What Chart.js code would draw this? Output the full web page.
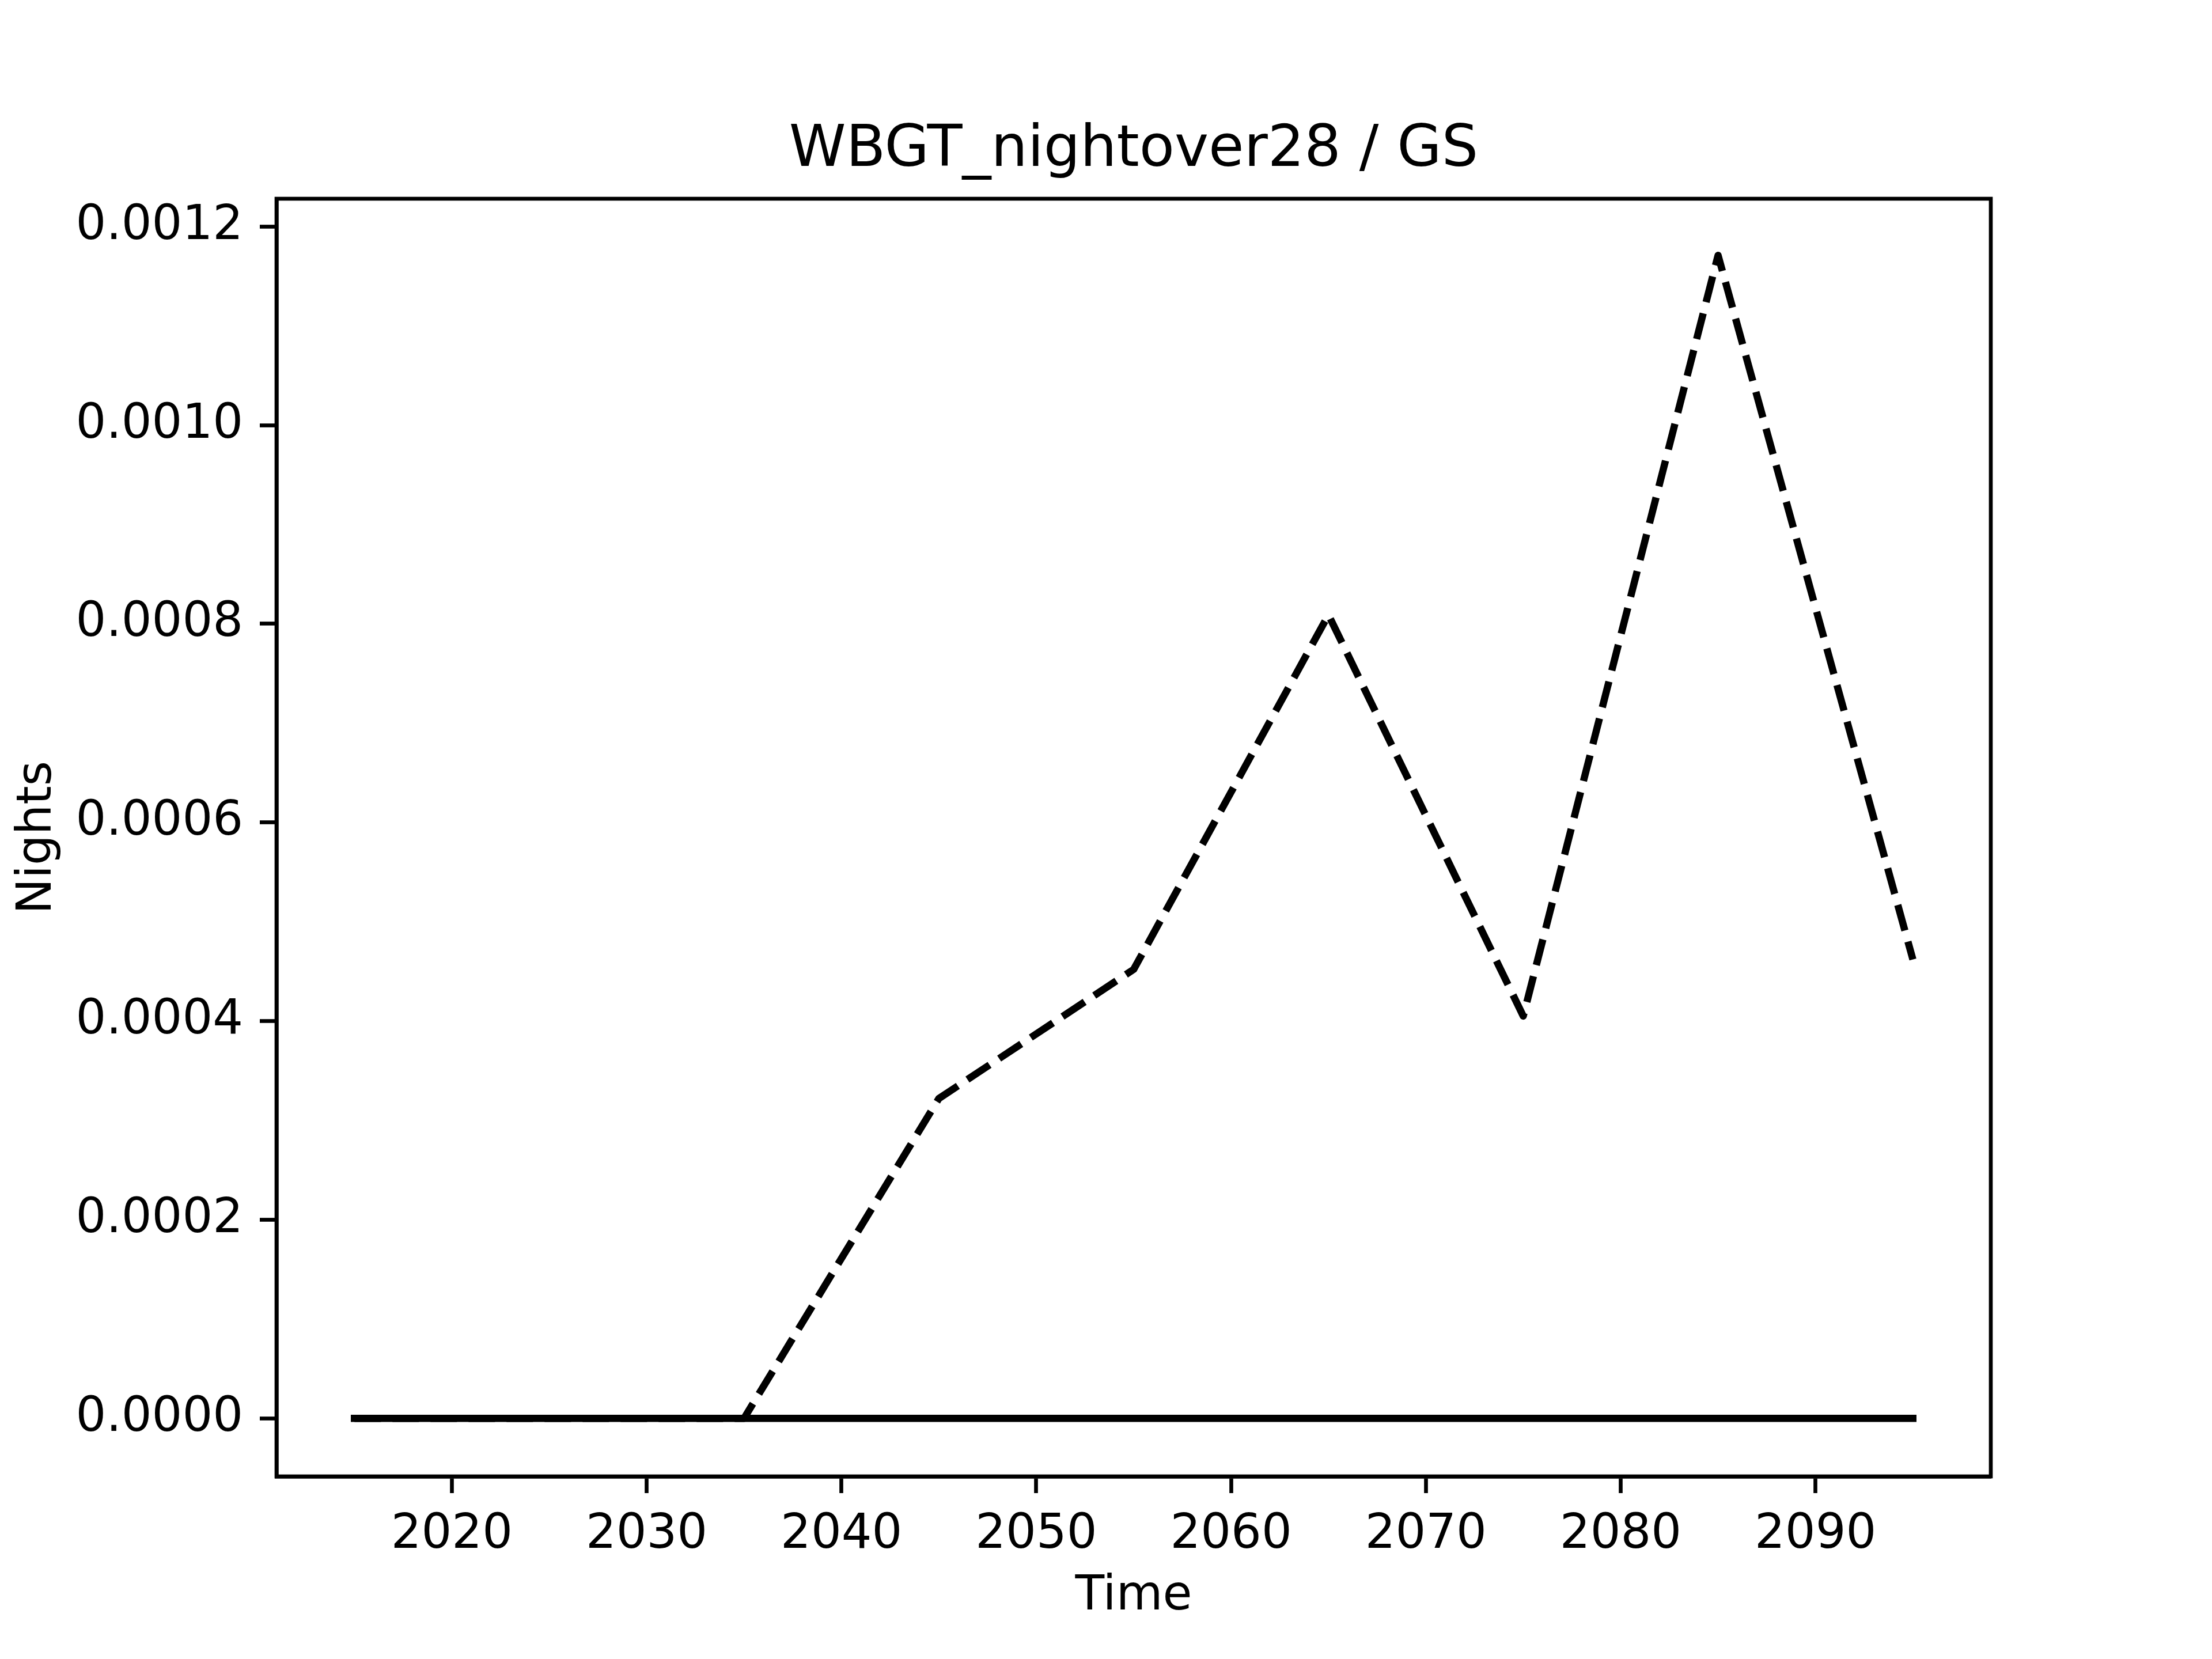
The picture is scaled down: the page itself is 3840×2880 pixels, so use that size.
<!DOCTYPE html>
<html>
<head>
<meta charset="utf-8">
<script src="https://cdn.jsdelivr.net/npm/chart.js@4.4.1/dist/chart.umd.min.js"></script>
<style>
  html, body { margin: 0; padding: 0; background: #fff; }
  #wrap { width: 3840px; height: 2880px; }
</style>
</head>
<body>
<div id="wrap"><canvas id="myChart" width="3840" height="2880"></canvas></div>
<script>
// data
var years = [2015, 2025, 2035, 2045, 2055, 2065, 2075, 2085, 2095];
var nightsDashed = [0, 0, 0, 0.000322, 0.000452, 0.000809, 0.000405, 0.001171, 0.000462];
var nightsSolid = [0, 0, 0, 0, 0, 0, 0, 0, 0];
var yTicks = [0, 0.0002, 0.0004, 0.0006, 0.0008, 0.0010, 0.0012];
var xTicks = [2020, 2030, 2040, 2050, 2060, 2070, 2080, 2090];
var titleText = 'WBGT_nightover28 / GS';
var xTitle = 'Time';
var yTitle = 'Nights';

var FONT = '"DejaVu Sans", sans-serif';

function toPoints(vals) {
	return years.map(function(y, i) { return { x: y, y: vals[i] }; });
}

// frame + texts like matplotlib
var framePlugin = {
	id: 'frame',
	afterDraw: function(chart) {
		var a = chart.chartArea;
		var ctx = chart.ctx;
		ctx.save();
		ctx.strokeStyle = '#000';
		ctx.lineWidth = 6.67;
		ctx.strokeRect(a.left, a.top, a.right - a.left, a.bottom - a.top);
		ctx.fillStyle = '#000';
		ctx.textAlign = 'center';
		ctx.textBaseline = 'middle';
		var cx = (a.left + a.right) / 2;
		ctx.font = '100px ' + FONT;
		ctx.fillText(titleText, cx, 262);
		ctx.font = '83px ' + FONT;
		ctx.fillText(xTitle, cx, 2772);
		ctx.translate(66, (a.top + a.bottom) / 2);
		ctx.rotate(-Math.PI / 2);
		ctx.fillText(yTitle, 0, 0);
		ctx.restore();
	}
};

var ctx = document.getElementById('myChart').getContext('2d');

var myLineChart = new Chart(ctx, {
	type: 'line',
	data: {
		datasets: [{
			label: 'solid',
			data: toPoints(nightsSolid),
			borderColor: '#000',
			borderWidth: 12.5,
			borderCapStyle: 'square',
			borderJoinStyle: 'round',
			pointRadius: 0,
			tension: 0,
			fill: false
		}, {
			label: 'dashed',
			data: toPoints(nightsDashed),
			borderColor: '#000',
			borderWidth: 12.5,
			borderDash: [46, 20],
			borderCapStyle: 'butt',
			borderJoinStyle: 'round',
			pointRadius: 0,
			tension: 0,
			fill: false
		}]
	},
	options: {
		responsive: false,
		animation: false,
		layout: { padding: { left: 0, top: 345, right: 384, bottom: 0 } },
		plugins: {
			legend: { display: false },
			tooltip: { enabled: false },
			title: { display: false }
		},
		scales: {
			x: {
				type: 'linear',
				min: 2011,
				max: 2099,
				afterFit: function(s) { s.height = 317; },
				afterBuildTicks: function(s) { s.ticks = xTicks.map(function(v) { return { value: v }; }); },
				grid: { drawOnChartArea: false, tickLength: 29, tickWidth: 6.67, tickColor: '#000' },
				border: { color: '#000', width: 6.67 },
				ticks: {
					color: '#000',
					padding: 24,
					maxRotation: 0,
					font: { family: FONT, size: 83 },
					callback: function(v) { return String(v); }
				}
			},
			y: {
				type: 'linear',
				min: -0.0000585,
				max: 0.001228,
				afterFit: function(s) { s.width = 480; },
				afterBuildTicks: function(s) { s.ticks = yTicks.map(function(v) { return { value: v }; }); },
				grid: { drawOnChartArea: false, tickLength: 29, tickWidth: 6.67, tickColor: '#000' },
				border: { color: '#000', width: 6.67 },
				ticks: {
					color: '#000',
					padding: 29,
					font: { family: FONT, size: 83 },
					callback: function(v) { return Number(v).toFixed(4); }
				}
			}
		}
	},
	plugins: [framePlugin]
});
</script>
</body>
</html>
